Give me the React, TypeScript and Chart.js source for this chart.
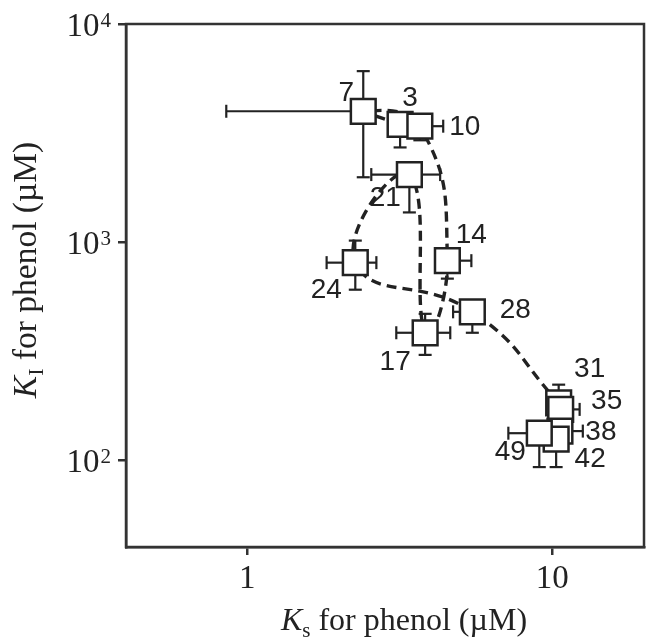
import React, { useEffect, useRef } from "react";
import { Chart, registerables } from "chart.js";

Chart.register(...registerables);

// ---- data ----
const days = ["3", "7", "10", "14", "17", "21", "24", "28", "31", "35", "38", "42", "49"];
const ksValues = [3.17, 2.4, 3.68, 4.53, 3.83, 3.4, 2.26, 5.47, 10.5, 10.66, 10.6, 10.3, 9.07];
const kiValues = [3470, 3980, 3400, 822, 384, 2040, 805, 479, 183, 171, 136, 125, 133];
const ksLow = [null, 0.853, null, null, 3.08, 2.55, 1.82, 4.73, null, null, null, null, 7.18];
const ksHigh = [3.86, null, 4.39, 5.43, 4.63, 4.29, 2.65, null, null, 12.3, 12.6, null, null];
const kiLow = [2717, 1983, 2930, 680, 304, 1368, 605, 384, null, null, null, 93, 93];
const kiHigh = [null, 6080, null, null, 469, null, 1016, null, 222, null, null, null, null];
const xTickValues = [1, 10];
const xTickLabels = ["1", "10"];
const yTickValues = [100, 1000, 10000];
const yTickExponents = ["2", "3", "4"];

// ---- style ----
const INK = "#222222";
const FRAME = "#333333";
const SERIF = "'Liberation Serif', 'Times New Roman', serif";
const SANS = "'Liberation Sans', Arial, sans-serif";
const labelOffsets: [number, number][] = [
  [10, -27], [-17, -19], [45, 0], [24, -26], [-30, 29], [-24, 23], [-29, 27],
  [43, -3], [31, -35], [46, -9], [41, 0], [34, 19], [-29, 18],
];

type Part = { text: string; font: string; dy: number };

function drawRich(ctx: CanvasRenderingContext2D, parts: Part[], cx: number, baseY: number) {
  let total = 0;
  const widths = parts.map((p) => {
    ctx.font = p.font;
    const w = ctx.measureText(p.text).width;
    total += w;
    return w;
  });
  let x = cx - total / 2;
  ctx.textAlign = "left";
  ctx.textBaseline = "alphabetic";
  parts.forEach((p, i) => {
    ctx.font = p.font;
    ctx.fillText(p.text, x, baseY + p.dy);
    x += widths[i];
  });
}

const decorPlugin = {
  id: "decor",
  beforeDatasetsDraw(chart: any) {
    const ctx: CanvasRenderingContext2D = chart.ctx;
    const xs = chart.scales.x;
    const ys = chart.scales.y;
    const cap = 6.5;
    ctx.save();
    ctx.strokeStyle = INK;
    ctx.lineWidth = 2.2;
    for (let i = 0; i < days.length; i++) {
      const px = xs.getPixelForValue(ksValues[i]);
      const py = ys.getPixelForValue(kiValues[i]);
      const seg = (x1: number, y1: number, x2: number, y2: number) => {
        ctx.beginPath();
        ctx.moveTo(x1, y1);
        ctx.lineTo(x2, y2);
        ctx.stroke();
      };
      [ksLow[i], ksHigh[i]].forEach((v) => {
        if (v == null) return;
        const x2 = xs.getPixelForValue(v);
        seg(px, py, x2, py);
        seg(x2, py - cap, x2, py + cap);
      });
      [kiLow[i], kiHigh[i]].forEach((v) => {
        if (v == null) return;
        const y2 = ys.getPixelForValue(v);
        seg(px, py, px, y2);
        seg(px - cap, y2, px + cap, y2);
      });
    }
    ctx.restore();
  },
  afterDatasetsDraw(chart: any) {
    const ctx: CanvasRenderingContext2D = chart.ctx;
    const xs = chart.scales.x;
    const ys = chart.scales.y;
    ctx.save();
    ctx.fillStyle = INK;
    ctx.font = `28px ${SANS}`;
    ctx.textAlign = "center";
    ctx.textBaseline = "middle";
    for (let i = 0; i < days.length; i++) {
      const px = xs.getPixelForValue(ksValues[i]);
      const py = ys.getPixelForValue(kiValues[i]);
      const [dx, dy] = labelOffsets[i];
      ctx.fillText(days[i], px + dx, py + dy + 1);
    }
    ctx.restore();
  },
  afterDraw(chart: any) {
    const ctx: CanvasRenderingContext2D = chart.ctx;
    const { left, right, top, bottom } = chart.chartArea;
    const xs = chart.scales.x;
    const ys = chart.scales.y;
    ctx.save();
    // frame
    ctx.strokeStyle = FRAME;
    ctx.lineWidth = 2.5;
    ctx.strokeRect(left, top, right - left, bottom - top);

    ctx.fillStyle = INK;
    // y tick labels with superscripts
    yTickValues.forEach((v, i) => {
      const py = ys.getPixelForValue(v);
      ctx.font = `21px ${SERIF}`;
      const supW = ctx.measureText(yTickExponents[i]).width;
      ctx.font = `33px ${SERIF}`;
      const baseW = ctx.measureText("10").width;
      const supRight = left - 15;
      ctx.textAlign = "left";
      ctx.textBaseline = "alphabetic";
      ctx.fillText("10", supRight - supW - baseW - 1, py + 12);
      ctx.font = `21px ${SERIF}`;
      ctx.fillText(yTickExponents[i], supRight - supW, py + 3);
    });
    // x tick labels
    ctx.font = `33px ${SERIF}`;
    ctx.textAlign = "center";
    ctx.textBaseline = "alphabetic";
    xTickValues.forEach((v, i) => {
      ctx.fillText(xTickLabels[i], xs.getPixelForValue(v), bottom + 41);
    });
    // x title
    drawRich(
      ctx,
      [
        { text: "K", font: `italic 32px ${SERIF}`, dy: 0 },
        { text: "s", font: `21px ${SERIF}`, dy: 7 },
        { text: " for phenol (\u00b5M)", font: `32px ${SERIF}`, dy: 0 },
      ],
      404,
      bottom + 83
    );
    // y title
    ctx.translate(36, 270);
    ctx.rotate(-Math.PI / 2);
    drawRich(
      ctx,
      [
        { text: "K", font: `italic 33.5px ${SERIF}`, dy: 0 },
        { text: "I", font: `22px ${SERIF}`, dy: 7 },
        { text: " for phenol (\u00b5M)", font: `33.5px ${SERIF}`, dy: 0 },
      ],
      0,
      0
    );
    ctx.restore();
  },
};

export default function App() {
  const canvasRef = useRef<HTMLCanvasElement | null>(null);

  useEffect(() => {
    if (!canvasRef.current) return;
    const points = ksValues.map((x, i) => ({ x, y: kiValues[i] }));
    const chart = new Chart(canvasRef.current, {
      type: "scatter",
      data: {
        datasets: [
          {
            type: "scatter",
            label: "points",
            data: points,
            pointStyle: "rect",
            pointRadius: 17.5,
            pointHoverRadius: 17.5,
            pointBorderWidth: 2.5,
            pointBackgroundColor: "#ffffff",
            pointBorderColor: INK,
          } as any,
          {
            type: "line",
            label: "path",
            data: points,
            borderColor: INK,
            borderWidth: 3.4,
            borderDash: [10, 6],
            tension: 0.5,
            pointRadius: 0,
            fill: false,
          } as any,
        ],
      },
      options: {
        animation: false,
        responsive: true,
        maintainAspectRatio: false,
        events: [],
        layout: { padding: { left: 118, top: 24, right: 14, bottom: 88 } },
        plugins: { legend: { display: false }, tooltip: { enabled: false } },
        scales: {
          x: {
            type: "logarithmic",
            min: 0.4,
            max: 20,
            afterBuildTicks: (scale: any) => {
              scale.ticks = xTickValues.map((value) => ({ value }));
            },
            ticks: { display: false },
            grid: {
              display: true,
              drawOnChartArea: false,
              drawTicks: true,
              tickLength: 8,
              color: FRAME,
              lineWidth: 2.5,
            },
            border: { display: true, color: FRAME, width: 2.5 },
          },
          y: {
            type: "logarithmic",
            min: 40,
            max: 10000,
            afterBuildTicks: (scale: any) => {
              scale.ticks = yTickValues.map((value) => ({ value }));
            },
            ticks: { display: false },
            grid: {
              display: true,
              drawOnChartArea: false,
              drawTicks: true,
              tickLength: 8,
              color: FRAME,
              lineWidth: 2.5,
            },
            border: { display: true, color: FRAME, width: 2.5 },
          },
        },
      } as any,
      plugins: [decorPlugin],
    });
    return () => chart.destroy();
  }, []);

  return (
    <div style={{ position: "absolute", left: 0, top: 0, width: 664, height: 643, background: "#fff" }}>
      <canvas ref={canvasRef} />
    </div>
  );
}
